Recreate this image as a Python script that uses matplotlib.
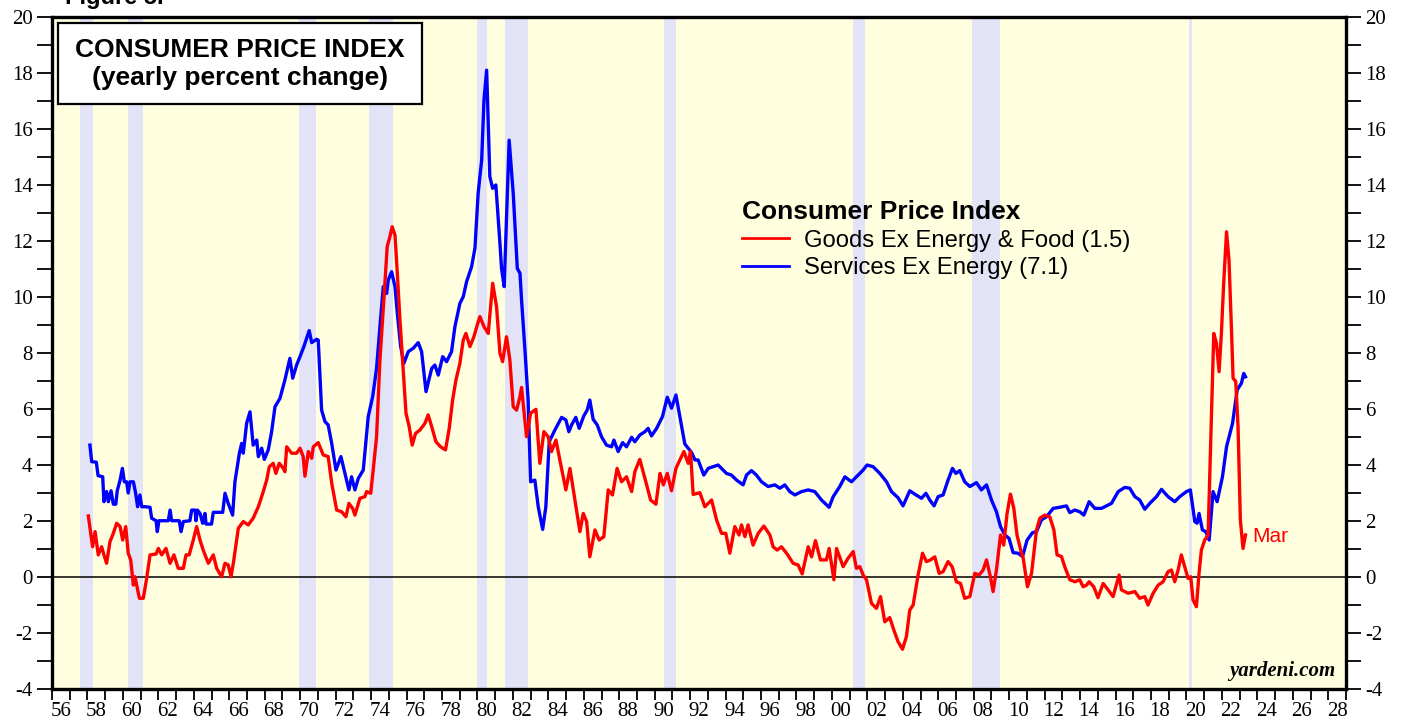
import matplotlib.pyplot as plt
from matplotlib.patches import Rectangle
import numpy as np

plt.rcParams['font.family'] = ['Liberation Sans', 'DejaVu Sans']
plt.rcParams['axes.unicode_minus'] = False

# CPI goods ex energy & food, yearly % change
goods_year = [1958.05, 1958.29, 1958.43, 1958.61, 1958.80, 1958.93, 1959.08, 1959.27, 1959.46, 1959.65,
              1959.84, 1959.99, 1960.16, 1960.30, 1960.44, 1960.59, 1960.68, 1960.93, 1961.15, 1961.34,
              1961.53, 1961.87, 1962.00, 1962.19, 1962.43, 1962.66, 1962.88, 1963.12, 1963.41, 1963.56,
              1963.74, 1963.97, 1964.16, 1964.35, 1964.53, 1964.82, 1965.10, 1965.29, 1965.57, 1965.76,
              1965.94, 1966.10, 1966.23, 1966.51, 1966.79, 1967.07, 1967.35, 1967.64, 1967.92, 1968.11,
              1968.26, 1968.48, 1968.63, 1968.82, 1969.05, 1969.14, 1969.24, 1969.52, 1969.80, 1969.99,
              1970.17, 1970.27, 1970.46, 1970.65, 1970.74, 1971.02, 1971.30, 1971.58, 1971.78, 1972.06,
              1972.34, 1972.58, 1972.75, 1972.96, 1973.09, 1973.37, 1973.65, 1973.75, 1973.98, 1974.12,
              1974.31, 1974.50, 1974.72, 1974.91, 1975.06, 1975.19, 1975.35, 1975.48, 1975.63, 1975.81,
              1975.97, 1976.15, 1976.32, 1976.51, 1976.76, 1977.04, 1977.22, 1977.42, 1977.66, 1977.92,
              1978.20, 1978.41, 1978.60, 1978.79, 1979.01, 1979.20, 1979.35, 1979.58, 1979.80, 1979.99,
              1980.14, 1980.37, 1980.61, 1980.86, 1981.08, 1981.27, 1981.42, 1981.64, 1981.83, 1982.02,
              1982.21, 1982.40, 1982.49, 1982.77, 1983.00, 1983.30, 1983.52, 1983.75, 1983.99, 1984.18,
              1984.43, 1984.65, 1984.99, 1985.22, 1985.50, 1985.78, 1985.97, 1986.16, 1986.34, 1986.63,
              1986.87, 1987.13, 1987.38, 1987.62, 1987.88, 1988.13, 1988.41, 1988.70, 1988.88, 1989.16,
              1989.45, 1989.77, 1990.07, 1990.30, 1990.49, 1990.71, 1990.95, 1991.20, 1991.42, 1991.65,
              1991.89, 1992.02, 1992.17, 1992.55, 1992.83, 1993.21, 1993.49, 1993.77, 1994.01, 1994.24,
              1994.52, 1994.76, 1994.90, 1995.09, 1995.27, 1995.55, 1995.84, 1996.16, 1996.50, 1996.68,
              1996.91, 1997.15, 1997.44, 1997.81, 1998.09, 1998.32, 1998.66, 1998.85, 1999.07, 1999.35,
              1999.69, 1999.84, 2000.11, 2000.26, 2000.63, 2000.91, 2001.20, 2001.38, 2001.57, 2001.76,
              2001.95, 2002.23, 2002.51, 2002.74, 2002.98, 2003.26, 2003.49, 2003.73, 2003.98, 2004.20,
              2004.39, 2004.58, 2004.86, 2005.11, 2005.33, 2005.56, 2005.80, 2006.05, 2006.27, 2006.55,
              2006.78, 2007.02, 2007.25, 2007.49, 2007.78, 2008.06, 2008.30, 2008.53, 2008.72, 2008.94,
              2009.09, 2009.28, 2009.51, 2009.69, 2009.88, 2010.07, 2010.26, 2010.44, 2010.65, 2010.79,
              2011.03, 2011.26, 2011.54, 2011.73, 2012.01, 2012.29, 2012.52, 2012.70, 2012.95, 2013.13,
              2013.42, 2013.70, 2013.98, 2014.17, 2014.36, 2014.51, 2014.77, 2015.01, 2015.30, 2015.58,
              2015.86, 2016.20, 2016.33, 2016.71, 2017.09, 2017.36, 2017.65, 2017.83, 2018.12, 2018.40,
              2018.68, 2018.96, 2019.15, 2019.34, 2019.53, 2019.71, 2019.90, 2020.09, 2020.24, 2020.37,
              2020.56, 2020.71, 2020.84, 2021.03, 2021.22, 2021.35, 2021.54, 2021.69, 2021.84, 2021.97,
              2022.10, 2022.26, 2022.40, 2022.54, 2022.63, 2022.78, 2022.91, 2023.04, 2023.19, 2023.33]
goods_val = [2.18, 1.08, 1.62, 0.79, 1.08, 0.79, 0.49, 1.26, 1.56, 1.92,
             1.80, 1.32, 1.80, 0.85, 0.61, -0.29, 0.01, -0.76, -0.76, -0.05,
             0.79, 0.82, 1.02, 0.79, 1.02, 0.49, 0.79, 0.31, 0.31, 0.79,
             0.79, 1.32, 1.80, 1.32, 0.96, 0.49, 0.79, 0.31, 0.01, 0.49,
             0.43, 0.01, 0.49, 1.74, 1.98, 1.86, 2.10, 2.51, 3.05, 3.46,
             3.94, 4.06, 3.70, 4.06, 3.88, 3.76, 4.65, 4.42, 4.42, 4.60,
             4.30, 3.60, 4.48, 4.24, 4.65, 4.80, 4.36, 4.30, 3.35, 2.39,
             2.33, 2.15, 2.63, 2.45, 2.21, 2.81, 2.87, 3.05, 2.99, 3.82,
             5.01, 7.75, 9.89, 11.80, 12.15, 12.51, 12.21, 10.85, 9.18, 7.39,
             5.85, 5.37, 4.71, 5.13, 5.25, 5.49, 5.79, 5.37, 4.83, 4.65,
             4.54, 5.31, 6.32, 7.04, 7.63, 8.46, 8.70, 8.23, 8.58, 9.00,
             9.30, 8.94, 8.70, 10.49, 9.65, 7.99, 7.69, 8.58, 7.75, 6.08,
             5.96, 6.44, 6.77, 5.01, 5.85, 5.99, 4.06, 5.19, 5.01, 4.48,
             4.89, 4.18, 3.11, 3.88, 2.75, 1.62, 2.27, 1.98, 0.72, 1.68,
             1.32, 1.44, 3.11, 2.93, 3.88, 3.40, 3.58, 3.05, 3.76, 4.20,
             3.52, 2.75, 2.60, 3.70, 3.29, 3.70, 3.08, 3.88, 4.18, 4.48,
             4.06, 4.48, 2.95, 3.01, 2.51, 2.75, 2.04, 1.56, 1.56, 0.85,
             1.80, 1.50, 1.86, 1.44, 1.86, 1.14, 1.56, 1.82, 1.50, 1.08,
             0.96, 1.08, 0.85, 0.49, 0.43, 0.11, 1.08, 0.72, 1.30, 0.61,
             0.61, 1.02, -0.10, 1.02, 0.37, 0.67, 0.91, 0.31, 0.37, 0.07,
             -0.10, -0.94, -1.12, -0.70, -1.60, -1.45, -1.89, -2.31, -2.58, -2.13,
             -1.18, -1.00, 0.07, 0.85, 0.55, 0.61, 0.72, 0.13, 0.19, 0.55,
             0.37, -0.17, -0.23, -0.76, -0.70, 0.13, 0.07, 0.25, 0.61, 0.01,
             -0.52, 0.25, 1.50, 1.14, 2.27, 2.96, 2.45, 1.50, 0.96, 0.67,
             -0.35, 0.13, 1.68, 2.10, 2.21, 2.15, 1.68, 0.79, 0.73, 0.37,
             -0.10, -0.17, -0.10, -0.35, -0.29, -0.17, -0.35, -0.74, -0.23, -0.46,
             -0.70, 0.07, -0.46, -0.58, -0.52, -0.76, -0.70, -1.00, -0.58, -0.29,
             -0.17, 0.19, 0.25, -0.17, 0.25, 0.79, 0.37, -0.05, 0.01, -0.82,
             -1.06, 0.13, 0.96, 1.32, 1.50, 4.42, 8.70, 8.35, 7.33, 8.70,
             10.49, 12.33, 11.32, 8.82, 7.10, 6.98, 5.37, 2.04, 1.02, 1.50]

# CPI services ex energy, yearly % change
serv_year = [1958.14, 1958.24, 1958.50, 1958.60, 1958.86, 1958.93, 1959.08, 1959.18, 1959.33, 1959.46,
             1959.60, 1959.68, 1959.84, 1959.97, 1960.08, 1960.21, 1960.30, 1960.40, 1960.59, 1960.72,
             1960.83, 1960.96, 1961.06, 1961.25, 1961.53, 1961.62, 1961.87, 1961.94, 1962.03, 1962.56,
             1962.66, 1962.75, 1963.18, 1963.28, 1963.41, 1963.78, 1963.88, 1964.07, 1964.12, 1964.20,
             1964.35, 1964.50, 1964.63, 1964.69, 1965.00, 1965.10, 1965.63, 1965.76, 1965.94, 1966.19,
             1966.32, 1966.57, 1966.70, 1966.79, 1966.98, 1967.17, 1967.35, 1967.55, 1967.64, 1967.83,
             1967.98, 1968.20, 1968.39, 1968.58, 1968.86, 1969.14, 1969.42, 1969.58, 1969.80, 1969.99,
             1970.21, 1970.51, 1970.65, 1970.93, 1971.02, 1971.21, 1971.40, 1971.58, 1971.78, 1972.02,
             1972.30, 1972.53, 1972.75, 1972.90, 1973.09, 1973.28, 1973.56, 1973.84, 1974.09, 1974.31,
             1974.50, 1974.69, 1974.88, 1974.97, 1975.16, 1975.35, 1975.48, 1975.67, 1975.85, 1976.10,
             1976.38, 1976.66, 1976.85, 1977.10, 1977.42, 1977.60, 1977.79, 1978.04, 1978.26, 1978.54,
             1978.73, 1979.01, 1979.20, 1979.39, 1979.67, 1979.86, 1980.04, 1980.24, 1980.37, 1980.52,
             1980.70, 1980.86, 1981.04, 1981.27, 1981.36, 1981.51, 1981.79, 1982.02, 1982.25, 1982.40,
             1982.49, 1982.68, 1982.86, 1983.00, 1983.24, 1983.43, 1983.68, 1983.86, 1984.05, 1984.37,
             1984.75, 1984.99, 1985.16, 1985.31, 1985.55, 1985.74, 1986.00, 1986.19, 1986.34, 1986.53,
             1986.76, 1987.00, 1987.28, 1987.57, 1987.70, 1987.94, 1988.19, 1988.41, 1988.70, 1988.88,
             1989.16, 1989.45, 1989.63, 1989.82, 1990.11, 1990.44, 1990.71, 1990.95, 1991.20, 1991.42,
             1991.70, 1991.89, 1992.08, 1992.27, 1992.45, 1992.77, 1993.02, 1993.30, 1993.58, 1993.86,
             1994.05, 1994.33, 1994.62, 1994.99, 1995.18, 1995.46, 1995.74, 1996.03, 1996.40, 1996.78,
             1997.06, 1997.34, 1997.62, 1997.91, 1998.28, 1998.66, 1999.03, 1999.41, 1999.84, 2000.07,
             2000.44, 2000.73, 2001.10, 2001.48, 2001.76, 2001.98, 2002.32, 2002.70, 2003.08, 2003.36,
             2003.73, 2004.01, 2004.24, 2004.39, 2004.67, 2005.05, 2005.30, 2005.52, 2005.76, 2005.99,
             2006.27, 2006.55, 2006.80, 2006.99, 2007.21, 2007.49, 2007.78, 2008.15, 2008.43, 2008.72,
             2009.00, 2009.28, 2009.51, 2009.75, 2009.99, 2010.22, 2010.50, 2010.75, 2011.01, 2011.31,
             2011.54, 2011.82, 2012.10, 2012.48, 2012.85, 2013.23, 2013.42, 2013.70, 2013.98, 2014.21,
             2014.51, 2014.83, 2015.20, 2015.58, 2015.77, 2016.15, 2016.52, 2016.80, 2017.09, 2017.36,
             2017.65, 2017.93, 2018.31, 2018.59, 2018.96, 2019.34, 2019.62, 2020.00, 2020.22, 2020.47,
             2020.60, 2020.71, 2020.90, 2021.09, 2021.28, 2021.50, 2021.73, 2022.03, 2022.26, 2022.60,
             2022.73, 2022.86, 2023.10, 2023.23, 2023.33]
serv_val = [4.71, 4.12, 4.10, 3.62, 3.58, 2.69, 3.05, 2.69, 3.08, 2.60,
            2.60, 3.08, 3.46, 3.88, 3.40, 3.40, 3.00, 3.40, 3.40, 2.99,
            2.51, 2.93, 2.51, 2.51, 2.49, 2.10, 2.01, 1.62, 2.01, 2.01,
            2.39, 2.01, 2.01, 1.62, 1.98, 2.01, 2.39, 2.39, 2.01, 2.39,
            2.27, 1.92, 2.27, 1.89, 1.89, 2.31, 2.31, 2.99, 2.63, 2.21,
            3.40, 4.42, 4.77, 4.42, 5.49, 5.90, 4.71, 4.89, 4.30, 4.60,
            4.20, 4.54, 5.19, 6.08, 6.38, 7.04, 7.81, 7.10, 7.57, 7.87,
            8.23, 8.80, 8.37, 8.49, 8.46, 5.96, 5.55, 5.43, 4.77, 3.82,
            4.30, 3.70, 3.11, 3.58, 3.11, 3.52, 3.82, 5.73, 6.44, 7.45,
            8.94, 10.37, 10.13, 10.61, 10.90, 10.37, 9.42, 8.23, 7.63, 8.05,
            8.17, 8.37, 8.05, 6.62, 7.45, 7.57, 7.21, 7.87, 7.69, 8.05,
            8.94, 9.77, 10.01, 10.55, 11.08, 11.74, 13.70, 14.89, 17.04, 18.10,
            14.30, 13.88, 14.00, 11.92, 11.02, 10.37, 15.60, 13.70, 11.02, 10.85,
            9.89, 8.11, 6.32, 3.40, 3.46, 2.51, 1.70, 2.51, 4.83, 5.25,
            5.70, 5.61, 5.19, 5.43, 5.70, 5.31, 5.75, 5.96, 6.32, 5.63,
            5.43, 5.01, 4.71, 4.65, 4.89, 4.48, 4.80, 4.65, 4.99, 4.83,
            5.07, 5.19, 5.31, 5.04, 5.31, 5.73, 6.42, 6.03, 6.50, 5.73,
            4.75, 4.60, 4.45, 4.18, 4.18, 3.64, 3.88, 3.94, 4.00, 3.82,
            3.70, 3.64, 3.46, 3.29, 3.64, 3.80, 3.64, 3.40, 3.23, 3.29,
            3.17, 3.29, 3.05, 2.93, 3.05, 3.11, 3.05, 2.75, 2.49, 2.87,
            3.23, 3.58, 3.40, 3.64, 3.82, 4.00, 3.94, 3.70, 3.40, 3.05,
            2.83, 2.54, 2.87, 3.08, 2.96, 2.81, 2.99, 2.75, 2.54, 2.87,
            2.93, 3.46, 3.88, 3.70, 3.80, 3.40, 3.23, 3.37, 3.11, 3.29,
            2.75, 2.33, 1.80, 1.50, 1.38, 0.87, 0.85, 0.73, 1.32, 1.58,
            1.62, 2.04, 2.15, 2.45, 2.49, 2.54, 2.30, 2.39, 2.33, 2.21,
            2.69, 2.45, 2.45, 2.57, 2.63, 3.05, 3.20, 3.17, 2.87, 2.75,
            2.42, 2.63, 2.87, 3.13, 2.87, 2.69, 2.87, 3.05, 3.11, 1.98,
            1.92, 2.27, 1.68, 1.62, 1.32, 3.05, 2.69, 3.58, 4.65, 5.49,
            6.08, 6.68, 6.92, 7.27, 7.15]

# recessions (start, end)
rec_start = [1957.58, 1960.29, 1969.92, 1973.87, 1980.00, 1981.54, 1990.54, 2001.21, 2007.92, 2020.12]
rec_end = [1958.29, 1961.12, 1970.87, 1975.21, 1980.54, 1982.87, 1991.21, 2001.87, 2009.46, 2020.29]

year_labels = ['%02d' % (y % 100) for y in range(1956, 2029, 2)]

fig = plt.figure(figsize=(14.07, 7.21), dpi=100)
ax = fig.add_axes([52/1407, 32/721, 1294/1407, 672/721])
ax.set_facecolor('#FFFFE0')

for s, e in zip(rec_start, rec_end):
    ax.axvspan(s, e, color='#E3E3F8', lw=0, zorder=0)

ax.axhline(0, color='black', lw=1.1, zorder=1)
ax.plot(goods_year, goods_val, color='#FF0000', lw=2.4, zorder=3,
        label='Goods Ex Energy & Food (1.5)')
ax.plot(serv_year, serv_val, color='#0000FF', lw=2.4, zorder=2,
        label='Services Ex Energy (7.1)')

ax.set_xlim(1956, 2029)
ax.set_ylim(-4, 20)

# x axis: tick every year, label centred in the middle of even years
ax.set_xticks(range(1956, 2030))
ax.set_xticklabels([])
ax.set_xticks(np.arange(1956.5, 2029, 2), minor=True)
ax.set_xticklabels(year_labels, minor=True, family='Liberation Serif', fontsize=15)
ax.tick_params(axis='x', which='major', direction='out', length=8, width=1.3)
ax.tick_params(axis='x', which='minor', length=0, pad=9)

ax.set_yticks(range(-4, 21, 2))
ax.set_yticks(range(-3, 20, 2), minor=True)
ax.tick_params(axis='y', which='both', direction='out', length=11, width=1.3,
               left=True, right=True, labelleft=True, labelright=True, pad=3)
for lab in ax.get_yticklabels():
    lab.set_family('Liberation Serif')
    lab.set_fontsize(15)

for sp in ax.spines.values():
    sp.set_linewidth(2.4)

# title box
ax.add_patch(Rectangle((0.0046, 0.8705), 0.2813, 0.1206, transform=ax.transAxes,
                       facecolor='white', edgecolor='black', lw=1.6, zorder=5))
ax.text(0.1453, 0.951, 'CONSUMER PRICE INDEX', transform=ax.transAxes, ha='center', va='center',
        fontsize=19, fontweight='bold', zorder=6)
ax.text(0.1453, 0.909, '(yearly percent change)', transform=ax.transAxes, ha='center', va='center',
        fontsize=19, fontweight='bold', zorder=6)

fig.text(65/1407, 1.004, 'Figure 5.', fontsize=17, fontweight='bold', ha='left', va='center')

leg = ax.legend(loc='upper left', bbox_to_anchor=(0.533, 0.727), frameon=False,
                title='Consumer Price Index', alignment='left', fontsize=17.2,
                title_fontproperties={'weight': 'bold', 'size': 19},
                handlelength=2.0, handletextpad=0.6, labelspacing=0.22,
                borderpad=0, borderaxespad=0)
for h in leg.legend_handles:
    h.set_linewidth(2.0)

ax.annotate('Mar', xy=(goods_year[-1], goods_val[-1]), xytext=(5, -1), textcoords='offset points',
            color='#FF0000', fontsize=15, va='center', ha='left')

ax.text(0.992, 0.012, 'yardeni.com', transform=ax.transAxes, ha='right', va='bottom',
        family='Liberation Serif', fontsize=15, fontweight='bold', style='italic')

fig.savefig('out.png', dpi=100)
